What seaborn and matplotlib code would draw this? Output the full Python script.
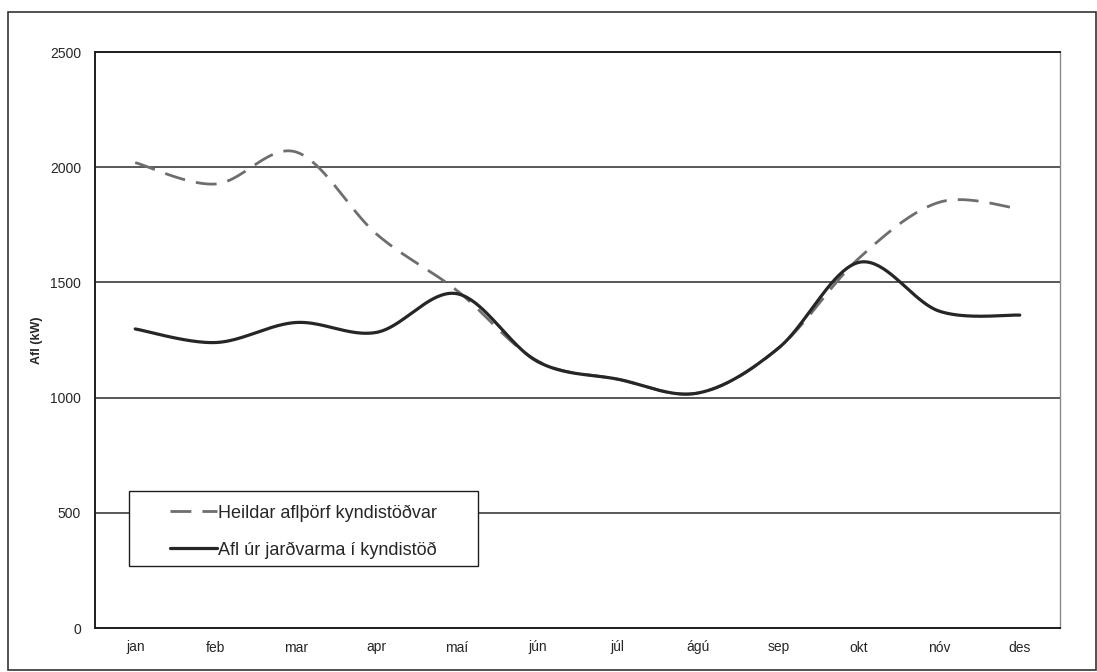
import numpy as np
import pandas as pd
import matplotlib.pyplot as plt
import seaborn as sns
from matplotlib.patches import Rectangle

# Gögn lesin af myndinni
manudir = ["jan", "feb", "mar", "apr", "maí", "jún", "júl", "ágú", "sep", "okt", "nóv", "des"]
heildar_afl = [2020, 1927, 2066, 1710, 1465, 1160, 1080, 1020, 1215, 1605, 1848, 1819]
jardvarmi_afl = [1298, 1239, 1326, 1283, 1451, 1157, 1080, 1020, 1215, 1587, 1375, 1358]

heiti_heildar = "Heildar aflþörf kyndistöðvar"
heiti_jardvarmi = "Afl úr jarðvarma í kyndistöð"


def slett_lina(gildi, n=40):
    # Excel "smoothed line": Bezier ferill gegnum punktana (Catmull-Rom)
    y = np.asarray(gildi, dtype=float)
    x = np.arange(len(y), dtype=float)
    xs, ys = [], []
    for i in range(len(y) - 1):
        p0 = np.array([x[max(i - 1, 0)], y[max(i - 1, 0)]])
        p1 = np.array([x[i], y[i]])
        p2 = np.array([x[i + 1], y[i + 1]])
        p3 = np.array([x[min(i + 2, len(y) - 1)], y[min(i + 2, len(y) - 1)]])
        c1 = p1 + (p2 - p0) / 6
        c2 = p2 - (p3 - p1) / 6
        t = np.linspace(0, 1, n, endpoint=(i == len(y) - 2))[:, None]
        pts = ((1 - t) ** 3) * p1 + 3 * ((1 - t) ** 2) * t * c1 + 3 * (1 - t) * t ** 2 * c2 + t ** 3 * p2
        xs.append(pts[:, 0])
        ys.append(pts[:, 1])
    return pd.DataFrame({"x": np.concatenate(xs), "y": np.concatenate(ys)})


sns.set_style("white")
plt.rcParams["font.family"] = ["Liberation Sans", "DejaVu Sans"]

fig = plt.figure(figsize=(10.97, 6.72), dpi=100)
ax = fig.add_axes([95 / 1097, 44 / 672, 965 / 1097, 576 / 672])

heildar_df = slett_lina(heildar_afl)
jardvarmi_df = slett_lina(jardvarmi_afl)

sns.lineplot(data=heildar_df, x="x", y="y", ax=ax, color="#6e6e6e", linewidth=2.0,
             label=heiti_heildar, sort=False)
ax.lines[-1].set_dashes([7.5, 4])
sns.lineplot(data=jardvarmi_df, x="x", y="y", ax=ax, color="#262626", linewidth=2.3,
             label=heiti_jardvarmi, sort=False)

ax.set_xlim(-0.5, 11.5)
ax.set_ylim(0, 2500)
ax.set_xticks(range(len(manudir)))
ax.set_xticklabels(manudir, fontsize=10)
ax.set_xticks(np.arange(-0.5, 12, 1), minor=True)
ax.tick_params(axis="x", which="major", length=0, pad=9)
ax.tick_params(axis="x", which="minor", length=5, width=1, direction="out", color="#222222")
ax.set_yticks(range(0, 2501, 500))
ax.tick_params(axis="y", length=6, width=1, direction="out", color="#222222", labelsize=10, pad=4)
ax.set_xlabel("")
ax.set_ylabel("Afl (kW)", fontsize=9, fontweight="bold", labelpad=5)

ax.yaxis.grid(True, color="#2a2a2a", linewidth=1.1)
ax.xaxis.grid(False)
ax.set_axisbelow(True)
for side in ["left", "bottom", "top"]:
    ax.spines[side].set_color("#1e1e1e")
    ax.spines[side].set_linewidth(1.4)
ax.spines["right"].set_color("#8a8a8a")
ax.spines["right"].set_linewidth(1.0)
ax.spines["right"].set_linestyle((0, (1, 1)))

# Rammi skýringar (breiðari en textinn, eins og í Excel)
ax.add_patch(Rectangle((0.0352, 0.1076), 0.3617, 0.1302, transform=ax.transAxes,
                       facecolor="white", edgecolor="#1e1e1e", linewidth=1.0, zorder=4))
leg = ax.legend(loc="upper left", bbox_to_anchor=(0.0777, 0.2144), borderaxespad=0,
                frameon=False, fontsize=13, handlelength=2.6,
                handletextpad=0.08, labelspacing=1.08, borderpad=0)
leg.set_zorder(5)

# Ytri rammi
fig.patches.append(Rectangle((8 / 1097, 2 / 672), 1088 / 1097, 658 / 672,
                             transform=fig.transFigure, fill=False,
                             edgecolor="#333333", linewidth=1.2))

plt.savefig("out.png", dpi=100)
